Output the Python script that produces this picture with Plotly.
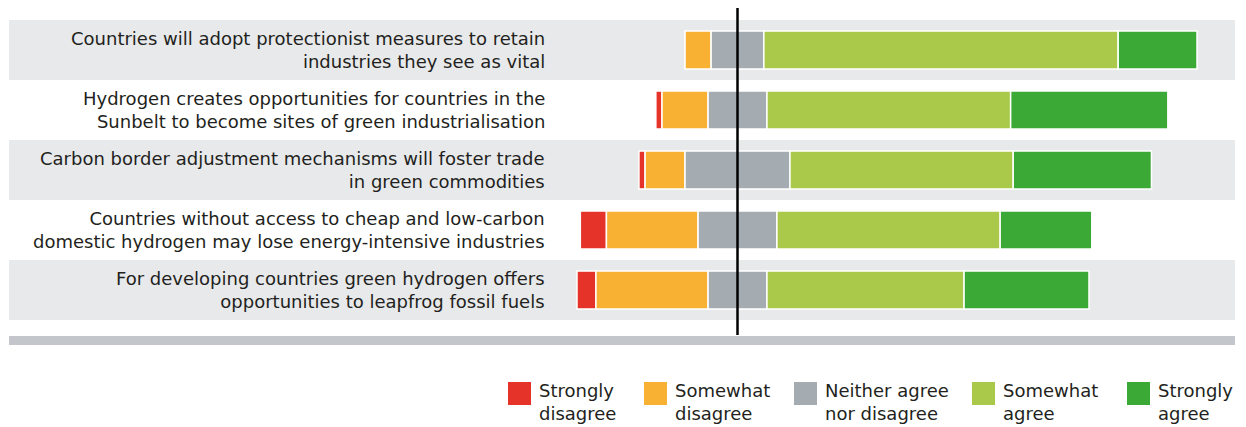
import plotly.graph_objects as go

statements = [
    "Countries will adopt protectionist measures to retain<br>industries they see as vital",
    "Hydrogen creates opportunities for countries in the<br>Sunbelt to become sites of green industrialisation",
    "Carbon border adjustment mechanisms will foster trade<br>in green commodities",
    "Countries without access to cheap and low-carbon<br>domestic hydrogen may lose energy-intensive industries",
    "For developing countries green hydrogen offers<br>opportunities to leapfrog fossil fuels",
]

responses = ["Strongly disagree", "Somewhat disagree", "Neither agree nor disagree", "Somewhat agree", "Strongly agree"]
legend_labels = ["Strongly<br>disagree", "Somewhat<br>disagree", "Neither agree<br>nor disagree", "Somewhat<br>agree", "Strongly<br>agree"]
colors = ["#E6332A", "#F8B133", "#A5ACB1", "#AAC94A", "#3AA935"]

# share of respondents (%) per statement
strongly_disagree = [0.0, 1.2, 1.2, 5.1, 3.7]
somewhat_disagree = [5.1, 9.0, 7.8, 17.9, 21.9]
neutral = [10.3, 11.5, 20.5, 15.4, 11.5]
somewhat_agree = [69.2, 47.6, 43.6, 43.6, 38.5]
strongly_agree = [15.4, 30.7, 27.0, 17.9, 24.4]

series = [strongly_disagree, somewhat_disagree, neutral, somewhat_agree, strongly_agree]

# the page puts the figure 8px in from the top-left corner
OFF = 8
W, H = 1246 - OFF, 427 - OFF
ML, MR, MT, MB = 1, 11, 0, 419 - 327
PW, PH = W - ML - MR, H - MT - MB
CENTER_PX = 737.5 - OFF  # x of the zero line
PX_PER_PCT = 5.12
ROW_PX = 60
ROW1_PX = 50 - OFF
FONT = {"family": "DejaVu Sans, sans-serif", "size": 18, "color": "#231F20"}


def px_x(x):
    return (x - OFF - ML) / PW


def px_y(y):
    return (H - MB - (y - OFF)) / PH


# bars are centred on the middle of the neutral segment
starts = [-(sd + wd + n / 2) for sd, wd, n in zip(strongly_disagree, somewhat_disagree, neutral)]

fig = go.Figure()
base = list(starts)
for name, vals, col in zip(responses, series, colors):
    fig.add_trace(
        go.Bar(
            y=list(range(len(statements))),
            x=vals,
            base=base,
            orientation="h",
            name=name,
            width=0.63,
            marker={"color": col, "line": {"color": "white", "width": 1.5}},
            showlegend=False,
            hovertemplate=f"{name}: %{{x:.1f}}%<extra></extra>",
        )
    )
    base = [b + v for b, v in zip(base, vals)]

shapes = []
for i in range(0, len(statements), 2):
    shapes.append(
        dict(type="rect", xref="paper", yref="y", x0=0, x1=1, y0=i - 0.5, y1=i + 0.5,
             fillcolor="#E8E9EB", line={"width": 0}, layer="below")
    )
shapes.append(
    dict(type="line", xref="x", yref="paper", x0=0, x1=0, y0=0, y1=1,
         line={"color": "black", "width": 2.5}, layer="above")
)
shapes.append(
    dict(type="rect", xref="paper", yref="paper", x0=0, x1=1, y0=px_y(345), y1=px_y(336),
         fillcolor="#C3C7CB", line={"width": 0})
)

annotations = []
for i, s in enumerate(statements):
    annotations.append(
        dict(text=s, xref="paper", yref="y", x=px_x(547), y=i, xanchor="right", yanchor="middle",
             align="right", showarrow=False, font=FONT)
    )

# custom legend
legend_sq_x = [508, 644, 794, 972, 1127]
for lx, lab, col in zip(legend_sq_x, legend_labels, colors):
    shapes.append(
        dict(type="rect", xref="paper", yref="paper", x0=px_x(lx), x1=px_x(lx + 23),
             y0=px_y(405), y1=px_y(382), fillcolor=col, line={"width": 0})
    )
    annotations.append(
        dict(text=lab, xref="paper", yref="paper", x=px_x(lx + 29), y=px_y(402),
             xanchor="left", yanchor="middle", align="left", showarrow=False, font=FONT)
    )

fig.update_layout(
    width=W,
    height=H,
    margin={"l": ML, "r": MR, "t": MT, "b": MB},
    paper_bgcolor="white",
    plot_bgcolor="rgba(0,0,0,0)",
    barmode="overlay",
    font={"family": FONT["family"]},
    xaxis={
        "range": [-(CENTER_PX - ML) / PX_PER_PCT, (W - MR - CENTER_PX) / PX_PER_PCT],
        "visible": False,
        "fixedrange": True,
    },
    yaxis={
        "range": [(PH - ROW1_PX) / ROW_PX, -ROW1_PX / ROW_PX],
        "visible": False,
        "fixedrange": True,
    },
    shapes=shapes,
    annotations=annotations,
)

fig.write_html("out.html")
